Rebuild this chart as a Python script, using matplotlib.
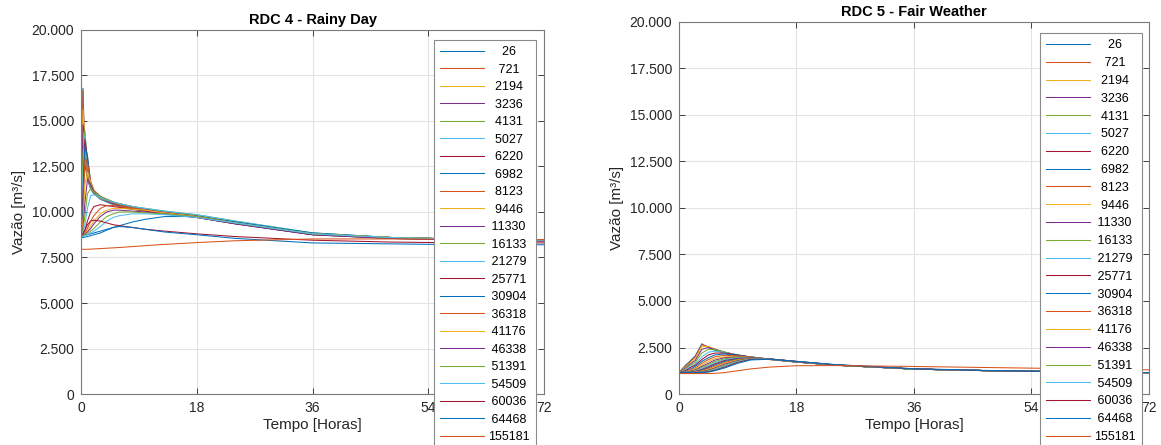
import matplotlib
matplotlib.use("Agg")
import matplotlib.pyplot as plt
from matplotlib.ticker import FuncFormatter

plt.rcParams['font.family'] = ['Liberation Sans', 'DejaVu Sans']

# distances of the cross sections (legend)
stations = ['26', '721', '2194', '3236', '4131', '5027', '6220', '6982', '8123', '9446',
            '11330', '16133', '21279', '25771', '30904', '36318', '41176', '46338',
            '51391', '54509', '60036', '64468', '155181']

# RDC 4 - Rainy Day
t_rain = [0, 0.3, 0.6, 1, 1.5, 2, 3, 4, 5, 6, 8, 10, 13, 18, 24, 36, 48, 60, 72]
q_rain = [
    [9000, 16800, 12600, 11800, 11250, 11000, 10700, 10550, 10400, 10300, 10150, 10050, 9900, 9700, 9350, 8750, 8550, 8480, 8450],
    [9000, 16700, 13200, 11900, 11300, 11050, 10750, 10600, 10450, 10350, 10200, 10100, 9950, 9750, 9400, 8800, 8600, 8500, 8450],
    [8950, 15600, 13800, 12000, 11300, 11050, 10750, 10600, 10450, 10350, 10200, 10100, 9950, 9750, 9400, 8800, 8600, 8500, 8450],
    [8950, 14800, 14200, 12200, 11350, 11050, 10800, 10600, 10450, 10350, 10200, 10100, 9950, 9750, 9400, 8800, 8600, 8500, 8450],
    [8900, 13200, 14500, 12500, 11400, 11100, 10800, 10650, 10500, 10400, 10250, 10150, 10000, 9800, 9450, 8800, 8600, 8500, 8450],
    [8900, 12000, 14200, 12800, 11450, 11100, 10800, 10650, 10500, 10400, 10250, 10150, 10000, 9800, 9450, 8800, 8600, 8500, 8450],
    [8900, 11000, 14000, 13000, 11500, 11150, 10850, 10650, 10500, 10400, 10250, 10150, 10000, 9800, 9450, 8800, 8600, 8500, 8450],
    [8850, 10200, 13600, 13100, 11600, 11150, 10850, 10650, 10500, 10400, 10250, 10150, 10000, 9800, 9450, 8800, 8600, 8500, 8450],
    [8850, 9600, 12900, 12700, 11700, 11200, 10850, 10650, 10500, 10400, 10250, 10150, 10000, 9800, 9450, 8800, 8600, 8500, 8450],
    [8850, 9300, 11500, 12200, 11600, 11200, 10850, 10700, 10550, 10450, 10300, 10150, 10000, 9800, 9450, 8800, 8600, 8500, 8450],
    [8800, 9100, 10500, 11800, 11500, 11150, 10850, 10700, 10550, 10450, 10300, 10150, 10000, 9800, 9450, 8800, 8600, 8500, 8450],
    [8800, 9000, 9800, 11000, 11300, 11100, 10850, 10700, 10550, 10450, 10300, 10200, 10050, 9850, 9500, 8850, 8600, 8500, 8450],
    [8800, 8900, 9300, 10200, 10900, 10950, 10800, 10650, 10550, 10450, 10300, 10200, 10050, 9850, 9500, 8850, 8600, 8500, 8450],
    [8750, 8800, 9000, 9500, 10000, 10300, 10400, 10350, 10300, 10250, 10150, 10050, 9900, 9700, 9350, 8750, 8550, 8450, 8400],
    [8700, 8700, 8720, 8750, 8800, 8850, 8950, 9050, 9150, 9250, 9450, 9600, 9750, 9750, 9450, 8850, 8600, 8500, 8450],
    [8750, 8780, 8850, 9100, 9500, 9800, 10200, 10350, 10350, 10300, 10200, 10100, 9950, 9750, 9400, 8800, 8600, 8500, 8450],
    [8700, 8720, 8800, 8950, 9250, 9500, 9900, 10100, 10200, 10200, 10150, 10100, 9950, 9750, 9400, 8800, 8600, 8500, 8450],
    [8700, 8720, 8780, 8900, 9100, 9350, 9750, 10000, 10100, 10100, 10050, 10000, 9900, 9700, 9350, 8750, 8550, 8450, 8400],
    [8700, 8700, 8750, 8800, 8950, 9100, 9450, 9750, 9900, 10000, 10000, 9950, 9900, 9750, 9400, 8800, 8600, 8500, 8450],
    [8650, 8650, 8700, 8750, 8850, 8950, 9200, 9500, 9700, 9800, 9900, 9900, 9850, 9700, 9400, 8800, 8600, 8500, 8450],
    [8700, 8800, 9000, 9300, 9500, 9550, 9500, 9400, 9300, 9250, 9150, 9050, 8950, 8800, 8650, 8450, 8350, 8300, 8300],
    [8600, 8600, 8620, 8650, 8700, 8750, 8850, 9000, 9150, 9200, 9150, 9050, 8900, 8750, 8550, 8300, 8250, 8200, 8200],
    [7950, 7950, 7950, 7950, 7960, 7970, 7990, 8010, 8030, 8050, 8100, 8150, 8220, 8320, 8420, 8520, 8520, 8500, 8480],
]

# RDC 5 - Fair Weather
t_fair = [0, 1, 1.5, 2.5, 3.5, 4.5, 5.5, 7, 9, 11, 14, 18, 24, 36, 48, 60, 72]
q_fair = [
    [1150, 1550, 1700, 2050, 2700, 2500, 2350, 2200, 2050, 1950, 1850, 1720, 1550, 1340, 1250, 1200, 1150],
    [1150, 1500, 1650, 2000, 2650, 2550, 2400, 2230, 2070, 1960, 1850, 1720, 1550, 1340, 1250, 1200, 1150],
    [1150, 1450, 1600, 1900, 2550, 2550, 2420, 2250, 2080, 1970, 1860, 1720, 1550, 1340, 1250, 1200, 1150],
    [1150, 1400, 1550, 1800, 2400, 2500, 2400, 2250, 2090, 1980, 1860, 1720, 1550, 1340, 1250, 1200, 1150],
    [1150, 1350, 1500, 1700, 2200, 2400, 2380, 2250, 2100, 1980, 1860, 1720, 1550, 1340, 1250, 1200, 1150],
    [1150, 1300, 1450, 1600, 2000, 2250, 2300, 2230, 2100, 1990, 1870, 1720, 1550, 1340, 1250, 1200, 1150],
    [1150, 1250, 1380, 1550, 1850, 2100, 2200, 2200, 2100, 1990, 1870, 1720, 1550, 1340, 1250, 1200, 1150],
    [1150, 1200, 1300, 1480, 1750, 1950, 2100, 2150, 2080, 1990, 1870, 1720, 1550, 1340, 1250, 1200, 1150],
    [1150, 1180, 1250, 1400, 1650, 1850, 2000, 2080, 2050, 1990, 1870, 1730, 1550, 1340, 1250, 1200, 1150],
    [1150, 1170, 1220, 1350, 1550, 1750, 1900, 2000, 2020, 1980, 1870, 1730, 1550, 1340, 1250, 1200, 1150],
    [1150, 1160, 1200, 1300, 1480, 1650, 1820, 1950, 1990, 1970, 1870, 1730, 1550, 1340, 1250, 1200, 1150],
    [1150, 1150, 1180, 1260, 1420, 1580, 1750, 1900, 1960, 1960, 1870, 1730, 1550, 1340, 1250, 1200, 1150],
    [1150, 1150, 1170, 1230, 1370, 1520, 1680, 1850, 1930, 1950, 1870, 1730, 1550, 1340, 1250, 1200, 1150],
    [1150, 1150, 1160, 1210, 1320, 1460, 1620, 1800, 1910, 1940, 1880, 1740, 1560, 1340, 1250, 1200, 1150],
    [1150, 1150, 1150, 1190, 1280, 1400, 1560, 1750, 1890, 1930, 1880, 1740, 1560, 1340, 1250, 1200, 1150],
    [1150, 1150, 1150, 1180, 1250, 1360, 1500, 1700, 1860, 1920, 1880, 1740, 1560, 1340, 1250, 1200, 1150],
    [1150, 1150, 1150, 1170, 1220, 1320, 1450, 1650, 1830, 1910, 1880, 1740, 1560, 1340, 1250, 1200, 1150],
    [1150, 1150, 1150, 1160, 1200, 1280, 1400, 1600, 1800, 1900, 1880, 1740, 1560, 1340, 1250, 1200, 1150],
    [1150, 1150, 1150, 1150, 1180, 1250, 1360, 1550, 1770, 1890, 1880, 1740, 1560, 1340, 1250, 1200, 1150],
    [1150, 1150, 1150, 1150, 1170, 1220, 1320, 1500, 1740, 1880, 1880, 1750, 1560, 1340, 1250, 1200, 1150],
    [1150, 1150, 1150, 1150, 1160, 1200, 1280, 1450, 1700, 1860, 1880, 1750, 1570, 1350, 1250, 1200, 1150],
    [1150, 1150, 1150, 1150, 1150, 1180, 1250, 1400, 1650, 1830, 1870, 1760, 1580, 1360, 1260, 1200, 1150],
    [1100, 1100, 1100, 1100, 1100, 1100, 1110, 1150, 1250, 1350, 1450, 1520, 1530, 1480, 1420, 1360, 1300],
]

matlab_colors = ['#0072BD', '#D95319', '#EDB120', '#7E2F8E', '#77AC30', '#4DBEEE', '#A2142F']

fig = plt.figure(figsize=(11.61, 4.45), dpi=100)
ax1 = fig.add_axes([0.0698, 0.1146, 0.3988, 0.818])
ax2 = fig.add_axes([0.5848, 0.1146, 0.4048, 0.836])


def thousands(v, pos):
    return f"{v:,.0f}".replace(',', '.')


def draw(ax, t, series, title, legend_xy, spacing):
    for i, q in enumerate(series):
        ax.plot(t, q, color=matlab_colors[i % 7], lw=0.75, label=stations[i])
    ax.set_xlim(0, 72)
    ax.set_ylim(0, 20000)
    ax.set_xticks([0, 18, 36, 54, 72])
    ax.set_yticks(range(0, 20001, 2500))
    ax.yaxis.set_major_formatter(FuncFormatter(thousands))
    ax.grid(True, color='#e3e3e3', lw=0.8)
    ax.set_axisbelow(True)
    ax.tick_params(direction='in', length=4, width=0.6, top=True, right=True,
                   labelsize=10, colors='#262626', pad=5)
    for s in ax.spines.values():
        s.set_color('#7a7a7a')
        s.set_linewidth(0.8)
    ax.set_title(title, fontsize=10.5, fontweight='bold', pad=4)
    ax.set_xlabel('Tempo [Horas]', fontsize=11, color='#262626', labelpad=2)
    ax.set_ylabel('Vazão [m³/s]', fontsize=11, color='#262626', labelpad=4)
    handles, labels = ax.get_legend_handles_labels()
    # pad labels so the numbers appear centred in the legend column
    labels = [' ' * (6 - len(s)) + s for s in labels]
    leg = ax.legend(handles, labels, loc='upper left', bbox_to_anchor=legend_xy,
                    bbox_transform=fig.transFigure, fontsize=9, frameon=True,
                    fancybox=False, framealpha=1, edgecolor='#8a8a8a',
                    handlelength=3.5, handletextpad=0.3, labelspacing=spacing,
                    borderpad=0.5, borderaxespad=0)
    leg.get_frame().set_linewidth(0.8)
    leg.set_zorder(10)


draw(ax1, t_rain, q_rain, 'RDC 4 - Rainy Day', (434 / 1161, 1 - 40 / 445), 0.44)
draw(ax2, t_fair, q_fair, 'RDC 5 - Fair Weather', (1040 / 1161, 1 - 33 / 445), 0.465)

fig.savefig('out.png', dpi=100)
